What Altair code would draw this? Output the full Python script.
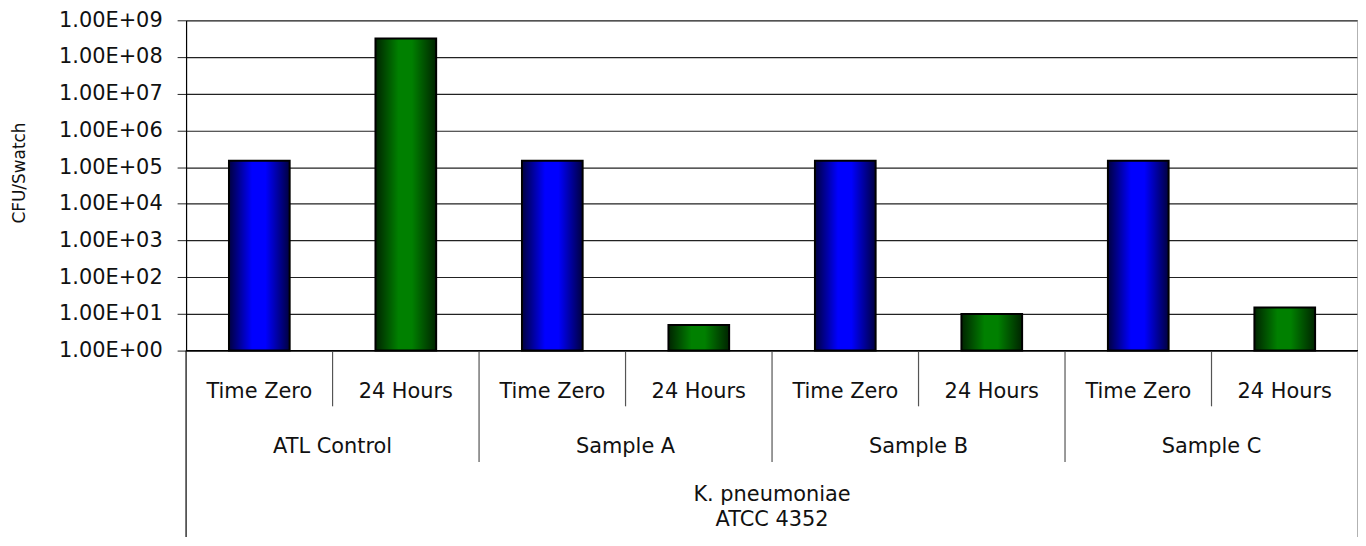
import altair as alt
import pandas as pd

groups = ["ATL Control", "Sample A", "Sample B", "Sample C"]
times = ["Time Zero", "24 Hours"]
values = [1.5e5, 3.2e8, 1.5e5, 5, 1.5e5, 10, 1.5e5, 15]
outer_lines = ["K. pneumoniae", "ATCC 4352"]
y_ticks = [10 ** k for k in range(0, 10)]

FONT = "DejaVu Sans"
W, H = 1178, 332

rows = []
i = 0
for g in groups:
    for t in times:
        rows.append({"group": g, "time": t, "value": values[i], "pos": i + 0.5})
        i += 1
df = pd.DataFrame(rows)

grp_df = pd.DataFrame({"group": groups, "pos": [2 * k + 1 for k in range(len(groups))]})
sub_sep = pd.DataFrame({"pos": [2 * k + 1 for k in range(len(groups))]})
grp_sep = pd.DataFrame({"pos": [2 * k for k in range(1, len(groups))]})
border_sep = pd.DataFrame({"pos": [0, 2 * len(groups)]})
outer_df = pd.DataFrame({"pos": [len(groups)], "l1": [outer_lines[0]], "l2": [outer_lines[1]]})

xs = alt.Scale(domain=[0, 2 * len(groups)], nice=False, zero=False, padding=0)
ys = alt.Scale(type="log", domain=[1, 1e9], nice=False)


def grad(dark, bright):
    return {
        "gradient": "linear", "x1": 0, "x2": 1, "y1": 0, "y2": 0,
        "stops": [
            {"offset": 0, "color": dark},
            {"offset": 0.38, "color": bright},
            {"offset": 0.6, "color": bright},
            {"offset": 1, "color": dark},
        ],
    }


base = alt.Chart(df)

x_enc = alt.X("pos:Q", scale=xs, axis=None)

bars_blue = base.transform_filter(alt.datum.time == times[0]).mark_bar(
    width=61, color=grad("#000040", "#0000ff"), stroke="black", strokeWidth=2
).encode(
    x=x_enc,
    y=alt.Y("value:Q", scale=ys, axis=alt.Axis(
        values=y_ticks, title="CFU/Swatch", titleFont=FONT, titleFontSize=17,
        titleFontWeight="normal", titleColor="#111111",
        titleX=-167, titleY=153, titleAngle=270, titleAlign="center", titleBaseline="middle",
        labelFont=FONT, labelFontSize=21, labelColor="#111111", labelPadding=15,
        labelExpr="'1.00E+' + (round(log(datum.value)/LN10) < 10 ? '0' : '') + round(log(datum.value)/LN10)",
        grid=True, gridColor="#222222", gridWidth=1.2, tickColor="#222222", tickSize=9,
        domainColor="black", domainWidth=1.2)),
    y2=alt.datum(1),
)
bars_green = base.transform_filter(alt.datum.time == times[1]).mark_bar(
    width=61, color=grad("#002400", "#008000"), stroke="black", strokeWidth=2
).encode(x=x_enc, y=alt.Y("value:Q", scale=ys), y2=alt.datum(1))

TXT = dict(font=FONT, fontSize=21, color="#111111", baseline="middle")
sub_labels = base.mark_text(**TXT).encode(x=x_enc, y=alt.value(374), text="time:N")
grp_labels = alt.Chart(grp_df).mark_text(**TXT).encode(
    x=alt.X("pos:Q", scale=xs, axis=None), y=alt.value(429), text="group:N")
outer1 = alt.Chart(outer_df).mark_text(**TXT).encode(
    x=alt.X("pos:Q", scale=xs, axis=None), y=alt.value(477), text="l1:N")
outer2 = alt.Chart(outer_df).mark_text(**TXT).encode(
    x=alt.X("pos:Q", scale=xs, axis=None), y=alt.value(502), text="l2:N")

BOT = 529
sub_rules = alt.Chart(sub_sep).mark_rule(color="#555555", strokeWidth=1.2).encode(
    x=alt.X("pos:Q", scale=xs, axis=None), y=alt.value(H), y2=alt.value(388))
grp_rules = alt.Chart(grp_sep).mark_rule(color="#555555", strokeWidth=1.2).encode(
    x=alt.X("pos:Q", scale=xs, axis=None), y=alt.value(H), y2=alt.value(444))
left_rule = alt.Chart(border_sep.iloc[[0]]).mark_rule(color="black", strokeWidth=1.2).encode(
    x=alt.X("pos:Q", scale=xs, axis=None), y=alt.value(H), y2=alt.value(BOT))
right_rule = alt.Chart(border_sep.iloc[[1]]).mark_rule(color="#999999", strokeWidth=1.5).encode(
    x=alt.X("pos:Q", scale=xs, axis=None), y=alt.value(0), y2=alt.value(BOT))
bottom_rule = alt.Chart(border_sep.iloc[[0]]).mark_rule(color="black", strokeWidth=1.2).encode(
    x=alt.value(0), x2=alt.value(W), y=alt.value(H))

chart = alt.layer(
    bars_blue, bars_green, sub_labels, grp_labels, outer1, outer2,
    sub_rules, grp_rules, right_rule, left_rule, bottom_rule
).properties(
    width=W, height=H,
    padding={"left": 179, "top": 11, "right": 0, "bottom": 186},
    autosize=alt.AutoSizeParams(type="none"),
).configure_view(stroke=None).configure_scale(continuousPadding=0).configure(background="white")

chart.save("out.html", embed_options={"renderer": "svg", "actions": False})
